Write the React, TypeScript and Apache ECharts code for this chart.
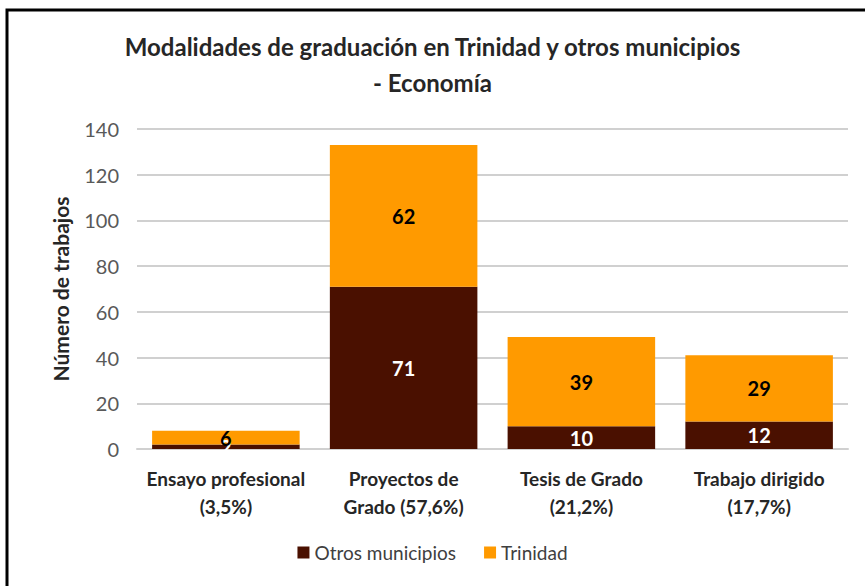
import React, { useEffect, useRef } from "react";
import * as echarts from "echarts";

const categories = [
  "Ensayo profesional\n(3,5%)",
  "Proyectos de\nGrado (57,6%)",
  "Tesis de Grado\n(21,2%)",
  "Trabajo dirigido\n(17,7%)",
];
const otrosMunicipios = [2, 71, 10, 12];
const trinidad = [6, 62, 39, 29];
const yTicks = { min: 0, max: 140, interval: 20 };

const FONT = "Lato, 'Noto Sans', sans-serif";

export default function App() {
  const ref = useRef<HTMLDivElement>(null);
  useEffect(() => {
    const chart = echarts.init(ref.current!, null, { renderer: "svg" });
    chart.setOption({
      animation: false,
      backgroundColor: "#ffffff",
      title: {
        text: "Modalidades de graduación en Trinidad y otros municipios\n- Economía",
        left: "center",
        top: 23,
        textStyle: {
          fontFamily: FONT,
          fontSize: 24,
          fontWeight: "bold",
          color: "#262626",
          lineHeight: 36,
        },
      },
      graphic: [
        {
          type: "rect",
          shape: { x: 7, y: 10, width: 900, height: 620 },
          style: { fill: "none", stroke: "#000", lineWidth: 3 },
          silent: true,
        },
      ],
      legend: {
        bottom: 19,
        left: "center",
        itemWidth: 12,
        itemHeight: 12,
        itemGap: 28,
        icon: "rect",
        textStyle: { fontFamily: FONT, fontSize: 19, color: "#404040" },
        data: ["Otros municipios", "Trinidad"],
      },
      grid: { left: 137, right: 17, top: 129, bottom: 137 },
      xAxis: {
        type: "category",
        data: categories,
        axisLine: { lineStyle: { color: "#d0d0d0", width: 2 } },
        axisTick: { show: false },
        axisLabel: {
          interval: 0,
          fontFamily: FONT,
          fontSize: 19,
          fontWeight: "bold",
          color: "#262626",
          lineHeight: 28,
          margin: 15,
        },
      },
      yAxis: {
        type: "value",
        min: yTicks.min,
        max: yTicks.max,
        interval: yTicks.interval,
        name: "Número de trabajos",
        nameLocation: "middle",
        nameGap: 66,
        nameTextStyle: {
          fontFamily: FONT,
          fontSize: 21,
          fontWeight: "bold",
          color: "#262626",
        },
        axisLabel: { fontFamily: FONT, fontSize: 20, color: "#595959", margin: 18 },
        splitLine: { lineStyle: { color: "#d0d0d0", width: 2 } },
      },
      series: [
        {
          name: "Otros municipios",
          type: "bar",
          stack: "total",
          data: otrosMunicipios,
          barCategoryGap: "17%",
          itemStyle: { color: "#4a1000" },
          label: {
            show: true,
            position: "inside",
            color: "#ffffff",
            fontFamily: FONT,
            fontSize: 20,
            fontWeight: "bold",
          },
        },
        {
          name: "Trinidad",
          type: "bar",
          stack: "total",
          data: trinidad,
          barCategoryGap: "17%",
          itemStyle: { color: "#ff9a00" },
          label: {
            show: true,
            position: "inside",
            color: "#000000",
            fontFamily: FONT,
            fontSize: 20,
            fontWeight: "bold",
          },
        },
      ],
    });
    return () => chart.dispose();
  }, []);
  return (
    <div
      ref={ref}
      style={{ position: "fixed", left: 0, top: 0, width: 865, height: 586 }}
    />
  );
}
